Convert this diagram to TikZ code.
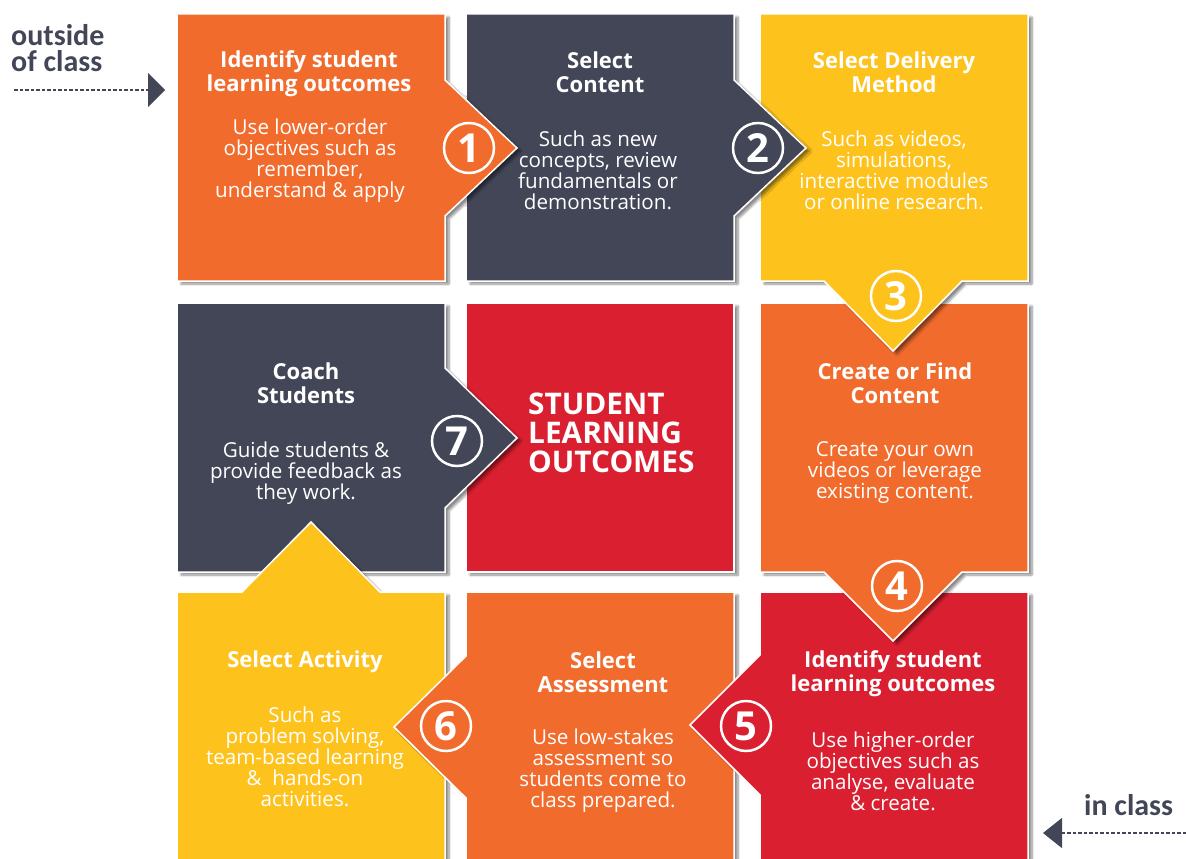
\documentclass[tikz,border=0pt]{standalone}
\usepackage{fontspec}
\setmainfont{Open Sans}
\newfontfamily\calfont{Carlito}
\usetikzlibrary{shadows.blur,arrows.meta}
\definecolor{cOrange}{HTML}{F16B2D}
\definecolor{cDark}{HTML}{424656}
\definecolor{cYellow}{HTML}{FDC21C}
\definecolor{cRed}{HTML}{D91F30}
\begin{document}
\begin{tikzpicture}[x=1pt,y=-1pt,
  panel/.style={draw=white, line width=1.5pt, line join=miter,
    blur shadow={shadow xshift=4pt, shadow yshift=-3pt, shadow blur steps=8, shadow opacity=45}},
  ttl/.style={font=\bfseries\fontsize{22}{24}\selectfont, text=white, align=center, inner sep=0pt},
  bdy/.style={font=\fontsize{20.6}{21}\selectfont, text=white, align=center, inner sep=0pt},
  num/.style={circle, draw=white, line width=2.5pt, minimum size=50pt, inner sep=0pt,
    font=\bfseries\fontsize{40}{40}\selectfont, text=white},
  side/.style={font=\calfont\bfseries\fontsize{30}{30}\selectfont, text=cDark, inner sep=0pt},
  dashline/.style={draw=cDark, line width=1.3pt, dash pattern=on 3.5pt off 2pt},
]
\useasboundingbox (0,0) rectangle (1186,859);
% centre
\fill[cRed, panel] (466,303) -- (734,303) -- (734,572) -- (466,572) -- cycle;
% 7 coach
\fill[cDark, panel] (177,303) -- (445,303) -- (445,368) -- (517,438) -- (445,508) -- (445,572) -- (177,572) -- cycle;
% activity
\fill[cYellow, panel] (177,592) -- (242,592) -- (311,522) -- (380,592) -- (445,592) -- (445,870) -- (177,870) -- cycle;
% 6 assessment
\fill[cOrange, panel] (466,592) -- (734,592) -- (734,870) -- (466,870) -- (466,798) -- (394,727) -- (466,656) -- cycle;
% 5
\fill[cRed, panel] (760,592) -- (1028,592) -- (1028,870) -- (760,870) -- (760,795) -- (690,725) -- (760,655) -- cycle;
% 4
\fill[cOrange, panel] (760,303) -- (1028,303) -- (1028,572) -- (962,572) -- (893,641) -- (824,572) -- (760,572) -- cycle;
% 3
\fill[cYellow, panel] (760,14) -- (1028,14) -- (1028,281) -- (962,281) -- (893,351) -- (824,281) -- (760,281) -- cycle;
% 2
\fill[cDark, panel] (466,14) -- (734,14) -- (734,80) -- (806,148) -- (734,216) -- (734,281) -- (466,281) -- cycle;
% 1
\fill[cOrange, panel] (177,14) -- (445,14) -- (445,80) -- (517,148) -- (445,216) -- (445,281) -- (177,281) -- cycle;

% texts
\node[ttl] (t1) at (309,74) {Identify student\\learning outcomes};
\node[bdy] (b1) at (310,161) {Use lower-order\\objectives such as\\remember,\\understand \& apply};
\node[ttl] (t2) at (600,72) {Select\\Content};
\node[bdy] (b2) at (598,170) {Such as new\\concepts, review\\fundamentals or\\demonstration.};
\node[ttl] (t3) at (894,72) {Select Delivery\\Method};
\node[bdy] (b3) at (894,170) {Such as videos,\\simulations,\\interactive modules\\or online research.};
\node[ttl] (t4) at (895,383) {Create or Find\\Content};
\node[bdy] (b4) at (895,473) {Create your own\\videos or leverage\\existing content.};
\node[ttl] (t5) at (893,674) {Identify student\\learning outcomes};
\node[bdy] (b5) at (893,771) {Use higher-order\\objectives such as\\analyse, evaluate\\\& create.};
\node[ttl] (t6) at (603,672) {Select\\Assessment};
\node[bdy] (b6) at (603,771) {Use low-stakes\\assessment so\\students come to\\class prepared.};
\node[ttl] (t8) at (305,662) {Select Activity};
\node[bdy] (b8) at (305,757) {Such as\\problem solving,\\team-based learning\\\&\ \ hands-on\\activities.};
\node[ttl] (t7) at (306,383) {Coach\\Students};
\node[bdy] (b7) at (306,473) {Guide students \&\\provide feedback as\\they work.};
\node[font=\bfseries\fontsize{29.8}{29}\selectfont, text=white, align=left, inner sep=0pt, anchor=west] (tc) at (528,433) {STUDENT\\LEARNING\\OUTCOMES};

% numbers
\node[num] (n1) at (469,148) {1};
\node[num] (n2) at (758,148) {2};
\node[num] (n3) at (896,296) {3};
\node[num] (n4) at (897,586) {4};
\node[num] (n5) at (746,726) {5};
\node[num] (n6) at (446,726) {6};
\node[num] (n7) at (457,441) {7};

% side labels
\node[side, anchor=base west] (outl1) at (11,46) {outside};
\node[side, anchor=base west] (outl2) at (11,72) {of class};
\coordinate (outStart) at (14,90);
\coordinate (outTip) at (165,90);
\draw[dashline, -{Triangle[width=34pt,length=17pt]}] (outStart) -- (outTip);
\node[side, anchor=base west] (inl) at (1084,815) {in class};
\coordinate (inStart) at (1186,833);
\coordinate (inTip) at (1043,833);
\draw[dashline, -{Triangle[width=30pt,length=19pt]}] (inStart) -- (inTip);
\end{tikzpicture}
\end{document}
